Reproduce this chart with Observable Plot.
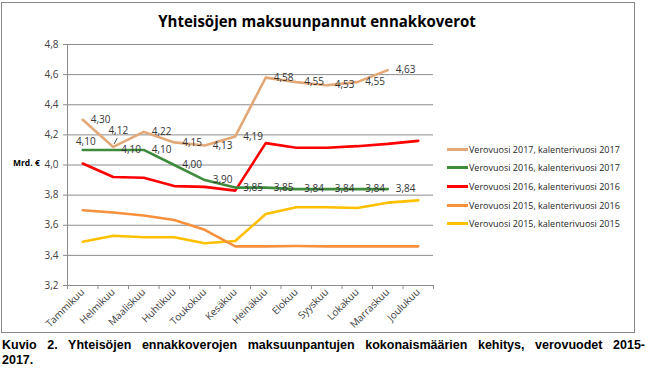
<!DOCTYPE html>
<html><head><meta charset="utf-8">
<script src="https://cdn.jsdelivr.net/npm/d3@7"></script>
<script src="https://cdn.jsdelivr.net/npm/@observablehq/plot@0.6"></script>
<style>
body{margin:0;background:#fff;width:650px;height:374px;overflow:hidden;position:relative;font-family:"Open Sans",sans-serif}
#frame{position:absolute;left:1px;top:2px;width:634px;height:331px;border:1px solid #868686;box-sizing:border-box}
#chart{position:absolute;left:0;top:0}
#title{position:absolute;left:0;width:634px;top:9px;text-align:center;font-weight:bold;font-size:16.5px;color:#000;white-space:nowrap;transform:scaleX(0.91);transform-origin:317px 0}
#unit{position:absolute;left:13px;top:157px;font-size:8.5px;font-weight:bold;color:#000}
#legend{position:absolute;left:447px;top:140px;font-size:9px;color:#262626}
.item{height:18.6px;display:flex;align-items:center;white-space:nowrap}
.sw{width:21px;height:3px;margin-right:1px}
#caption{position:absolute;left:2px;top:338px;width:643px;font-family:"Liberation Sans",Arial,sans-serif;font-weight:bold;font-size:12.5px;line-height:15px;color:#000}
#c1{text-align:justify;text-align-last:justify}
</style></head>
<body>
<div id="frame"></div>
<div id="chart"></div>
<div id="title">Yhteisöjen maksuunpannut ennakkoverot</div>
<div id="unit">Mrd. €</div>
<div id="legend"></div>
<div id="caption"><div id="c1">Kuvio 2. Yhteisöjen ennakkoverojen maksuunpantujen kokonaismäärien kehitys, verovuodet 2015-</div><div>2017.</div></div>
<script>
const months = ["Tammikuu","Helmikuu","Maaliskuu","Huhtikuu","Toukokuu","Kesäkuu","Heinäkuu","Elokuu","Syyskuu","Lokakuu","Marraskuu","Joulukuu"];
const seriesNames = ["Verovuosi 2017, kalenterivuosi 2017","Verovuosi 2016, kalenterivuosi 2017","Verovuosi 2016, kalenterivuosi 2016","Verovuosi 2015, kalenterivuosi 2016","Verovuosi 2015, kalenterivuosi 2015"];
const seriesColors = ["#E2A878","#3F8B3C","#FF0000","#F7913E","#FFC000"];
const v2017_2017 = [4.30,4.12,4.22,4.15,4.13,4.19,4.58,4.55,4.53,4.55,4.63];
const v2016_2017 = [4.10,4.10,4.10,4.00,3.90,3.85,3.85,3.84,3.84,3.84,3.84];
const v2016_2016 = [4.01,3.92,3.915,3.86,3.855,3.83,4.145,4.115,4.115,4.125,4.14,4.16];
const v2015_2016 = [3.70,3.685,3.665,3.635,3.57,3.46,3.46,3.462,3.46,3.46,3.46,3.46];
const v2015_2015 = [3.49,3.53,3.52,3.52,3.48,3.495,3.675,3.72,3.72,3.715,3.75,3.765];
const yTicks = [3.2,3.4,3.6,3.8,4.0,4.2,4.4,4.6,4.8];

const allValues = [v2017_2017,v2016_2017,v2016_2016,v2015_2016,v2015_2015];
const rows = allValues.flatMap((vals,k)=>vals.map((v,i)=>({s:seriesNames[k],i,v})));
const fmt = d => d.toFixed(2).replace(".", ",");
const tan = v2017_2017.map((v,i)=>({i,v}));
const green = v2016_2017.map((v,i)=>({i,v}));
const gridColor = "#8C8C8C";
const boundaries = d3.range(-0.5, 12, 1);
const drawOrder = [4,3,2,1,0].map(k=>seriesNames[k]);
const slash = {draw(ctx, size){ ctx.moveTo(-1.6, 3); ctx.lineTo(1.6, -3); }};

const chart = Plot.plot({
  width: 650, height: 336,
  marginLeft: 67, marginRight: 217, marginTop: 44, marginBottom: 51,
  style: {fontFamily: "'Open Sans', sans-serif", fontSize: "10px", color: "#404040", background: "transparent"},
  x: {domain: [-0.5, 11.5]},
  y: {domain: [3.2, 4.8]},
  color: {domain: seriesNames, range: seriesColors},
  marks: [
    Plot.ruleY(yTicks, {stroke: gridColor, strokeWidth: 1}),
    Plot.ruleX([-0.5], {stroke: gridColor, strokeWidth: 1}),
    Plot.axisY({ticks: yTicks, tickSize: 4, tickPadding: 5, tickFormat: d => d.toFixed(1).replace(".", ","), label: null, stroke: gridColor, fontSize: 10}),
    Plot.axisX({ticks: boundaries, tickSize: 4, tickFormat: () => "", label: null, stroke: gridColor}),
    Plot.axisX({ticks: d3.range(12), tickSize: 0, tickPadding: 5, tickRotate: -45, tickFormat: i => months[i], label: null, fontSize: 10}),
    ...drawOrder.map(name => Plot.line(rows.filter(r=>r.s===name), {x: "i", y: "v", stroke: "s", strokeWidth: 2.6})),
    Plot.text(tan.filter(d=>d.i!==1), {x: "i", y: "v", text: d=>fmt(d.v), dx: 8, textAnchor: "start", fill: "#333", fontSize: 10}),
    Plot.text(tan.filter(d=>d.i===1), {x: "i", y: "v", text: d=>fmt(d.v), dx: 5, dy: -16, textAnchor: "middle", fill: "#333", fontSize: 10}),
    Plot.dot(tan.filter(d=>d.i===1), {x: "i", y: "v", symbol: slash, r: 3, dx: 2.5, dy: -6, stroke: "#333", strokeWidth: 0.9, fill: "none"}),
    Plot.text(green.filter(d=>d.i!==0), {x: "i", y: "v", text: d=>fmt(d.v), dx: 8, textAnchor: "start", fill: "#333", fontSize: 10}),
    Plot.text(green.filter(d=>d.i===0), {x: "i", y: "v", text: d=>fmt(d.v), dx: 3, dy: -8, textAnchor: "middle", fill: "#333", fontSize: 10})
  ]
});
document.getElementById("chart").appendChild(chart);

const legend = document.getElementById("legend");
seriesNames.forEach((n,k)=>{
  const it = document.createElement("div"); it.className = "item";
  const sw = document.createElement("span"); sw.className = "sw"; sw.style.background = seriesColors[k];
  const t = document.createElement("span"); t.textContent = n;
  it.appendChild(sw); it.appendChild(t); legend.appendChild(it);
});
</script>
</body></html>
